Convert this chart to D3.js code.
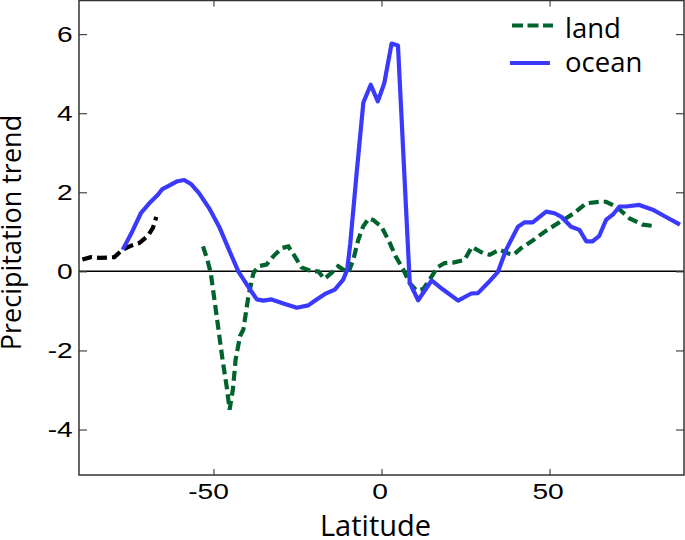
<!DOCTYPE html>
<html>
<head>
<meta charset="utf-8">
<script src="https://cdn.jsdelivr.net/npm/d3@7"></script>
<style>
  html, body { margin: 0; padding: 0; background: #fff; }
  svg { display: block; }
</style>
</head>
<body>
<script>
// ---- Data ----
const xTicks = [-50, 0, 50];
const yTicks = [-4, -2, 0, 2, 4, 6];

// black dashed (southern high-latitude land)
const polarLat = [-89, -86.5, -84, -81.5, -79.5, -77, -74.5, -72, -69.5, -68, -67];
const polarVal = [0.30, 0.36, 0.34, 0.35, 0.36, 0.55, 0.65, 0.72, 0.90, 1.10, 1.38];

// ocean (blue solid)
const oceanLat = [-77, -74.5, -71.6, -69.1, -66.6, -65.2, -63.2, -60.7, -58.7, -56.7, -54.3, -51.3, -48.3, -45.4, -42.6,
  -39.1, -37.1, -35.2, -32.7, -29.2, -25.2, -21.8, -19.3, -16.8, -13.9, -11.4, -10.2, -9.3, -7.4, -5.4, -3.2, -1.1, 0.8,
  3.0, 4.9, 8.4, 10.9, 14.9, 18.3, 22.8, 26.7, 28.7, 31.7, 34.6, 37.1, 40.6, 42.6, 45.0, 49.0, 51.5, 53.5, 56.4, 58.9,
  60.9, 62.8, 64.8, 66.8, 69.0, 70.8, 72.8, 76.7, 80.7, 84.1, 88.8];
const oceanVal = [0.55, 0.95, 1.47, 1.72, 1.93, 2.08, 2.17, 2.28, 2.31, 2.21, 1.98, 1.60, 1.13, 0.55, 0.00,
  -0.46, -0.71, -0.74, -0.71, -0.81, -0.92, -0.86, -0.71, -0.57, -0.46, -0.21, 0.04, 0.70, 2.48, 4.27, 4.72, 4.30, 4.75,
  5.76, 5.71, -0.29, -0.73, -0.23, -0.46, -0.74, -0.56, -0.55, -0.29, -0.02, 0.55, 1.13, 1.24, 1.24, 1.51, 1.47, 1.38, 1.13, 1.05,
  0.76, 0.76, 0.90, 1.30, 1.45, 1.64, 1.64, 1.68, 1.56, 1.40, 1.18];

// land (green dashed)
const landLat = [-53.1, -51.8, -50.8, -49.3, -47.3, -46.0, -45.2, -44.2, -43.4, -42.1, -41.1, -39.6, -38.1, -36.6, -34.2,
  -32.2, -29.7, -27.7, -25.8, -23.8, -20.8, -18.8, -17.0, -14.9, -12.9, -9.9, -8.4, -6.9, -5.5, -3.8, -2.5, 0, 2.3, 4.2,
  6.4, 8.4, 10.4, 12.4, 14.4, 16.6, 18.8, 21.3, 24.7, 26.9, 30.2, 32.2, 35.1, 37.8, 39.3, 41.6, 45.0, 49.0, 53.3, 56.9,
  60.9, 64.8, 66.8, 69.8, 73.8, 77.7, 80.7];
const landVal = [0.63, 0.29, -0.04, -0.97, -2.23, -2.95, -3.50, -2.98, -2.23, -1.64, -1.47, -0.63, -0.04, 0.13, 0.17,
  0.38, 0.59, 0.63, 0.38, 0.10, 0.00, 0.00, -0.19, -0.04, 0.13, -0.04, 0.29, 0.80, 1.13, 1.34, 1.30, 1.13, 0.75, 0.38,
  0.06, -0.30, -0.48, -0.45, -0.20, 0.10, 0.21, 0.22, 0.29, 0.62, 0.46, 0.42, 0.55, 0.45, 0.42, 0.59, 0.78, 1.03, 1.26, 1.45,
  1.72, 1.76, 1.76, 1.64, 1.34, 1.18, 1.15];

const seriesNames = ["land", "ocean"];

// ---- Layout ----
const W = 685, H = 540;
const mLeft = 79, mRight = 684, mTop = 0.5, mBottom = 475;

const svg = d3.select("body").append("svg").attr("width", W).attr("height", H);

const x = d3.scaleLinear().domain([-90, 90]).range([mLeft, mRight]);
const y = d3.scaleLinear().domain([-5.15, 6.85]).range([mBottom, mTop]);

const BLUE = "#3a3aff", GREEN = "#00632e";

svg.append("clipPath").attr("id", "clip").append("rect")
  .attr("x", mLeft).attr("y", mTop).attr("width", mRight - mLeft).attr("height", mBottom - mTop);

// zero line
svg.append("line")
  .attr("x1", x(-90)).attr("x2", x(90)).attr("y1", y(0)).attr("y2", y(0))
  .attr("stroke", "#000").attr("stroke-width", 1.5);

const line = d3.line().x(d => x(d[0])).y(d => y(d[1]));
const g = svg.append("g").attr("clip-path", "url(#clip)");

g.append("path").datum(d3.zip(polarLat, polarVal)).attr("d", line)
  .attr("fill", "none").attr("stroke", "#000").attr("stroke-width", 4.2)
  .attr("stroke-dasharray", "10,5");

g.append("path").datum(d3.zip(landLat, landVal)).attr("d", line)
  .attr("fill", "none").attr("stroke", GREEN).attr("stroke-width", 4.2)
  .attr("stroke-dasharray", "10,5");

g.append("path").datum(d3.zip(oceanLat, oceanVal)).attr("d", line)
  .attr("fill", "none").attr("stroke", BLUE).attr("stroke-width", 4.2)
  .attr("stroke-linejoin", "round");

// axes (inward ticks)
const tickFont = "'Liberation Sans', Arial, sans-serif";
const sx = 1.25;

const axL = svg.append("g").attr("transform", `translate(${mLeft},0)`)
  .call(d3.axisLeft(y).tickValues(yTicks).tickSize(-8).tickPadding(5).tickFormat(d3.format("d")));
const axR = svg.append("g").attr("transform", `translate(${mRight},0)`)
  .call(d3.axisRight(y).tickValues(yTicks).tickSize(-8).tickFormat(""));
const axB = svg.append("g").attr("transform", `translate(0,${mBottom})`)
  .call(d3.axisBottom(x).tickValues(xTicks).tickSize(-6).tickPadding(8).tickFormat(d3.format("d")));
const axT = svg.append("g").attr("transform", `translate(0,${mTop})`)
  .call(d3.axisTop(x).tickValues(xTicks).tickSize(-6).tickFormat(""));

[axL, axR, axB, axT].forEach(a => {
  a.select(".domain").remove();
  a.selectAll(".tick line").attr("stroke", "#444").attr("stroke-width", 1.2);
  a.selectAll("text").attr("font-family", tickFont).attr("font-size", 22.5).attr("fill", "#000");
});
axL.selectAll(".tick text").text(d => String(d))
  .attr("transform", `scale(${sx},1)`);
axB.selectAll(".tick text").text(d => String(d))
  .attr("transform", d => `translate(${d < 0 ? -5.5 : -2},0) scale(${sx},1)`);

// frame
svg.append("rect").attr("x", mLeft).attr("y", mTop).attr("width", mRight - mLeft).attr("height", mBottom - mTop)
  .attr("fill", "none").attr("stroke", "#333").attr("stroke-width", 1.5);

// labels
const labFont = "'Open Sans', sans-serif";
svg.append("text").attr("x", 375.5).attr("y", 536).attr("text-anchor", "middle")
  .attr("font-family", labFont).attr("font-size", 29).text("Latitude");
svg.append("text").attr("transform", "translate(21,232.5) rotate(-90)").attr("text-anchor", "middle")
  .attr("font-family", labFont).attr("font-size", 27).text("Precipitation trend");

// legend
const leg = svg.append("g");
leg.append("line").attr("x1", 512).attr("x2", 553).attr("y1", 25.5).attr("y2", 25.5)
  .attr("stroke", GREEN).attr("stroke-width", 4).attr("stroke-dasharray", "11,4.5");
leg.append("line").attr("x1", 510).attr("x2", 550).attr("y1", 63).attr("y2", 63)
  .attr("stroke", BLUE).attr("stroke-width", 4);
leg.append("text").attr("x", 565).attr("y", 37.5).attr("font-family", labFont).attr("font-size", 27.5).text(seriesNames[0]);
leg.append("text").attr("x", 565).attr("y", 72).attr("font-family", labFont).attr("font-size", 27.5).text(seriesNames[1]);
</script>
</body>
</html>
